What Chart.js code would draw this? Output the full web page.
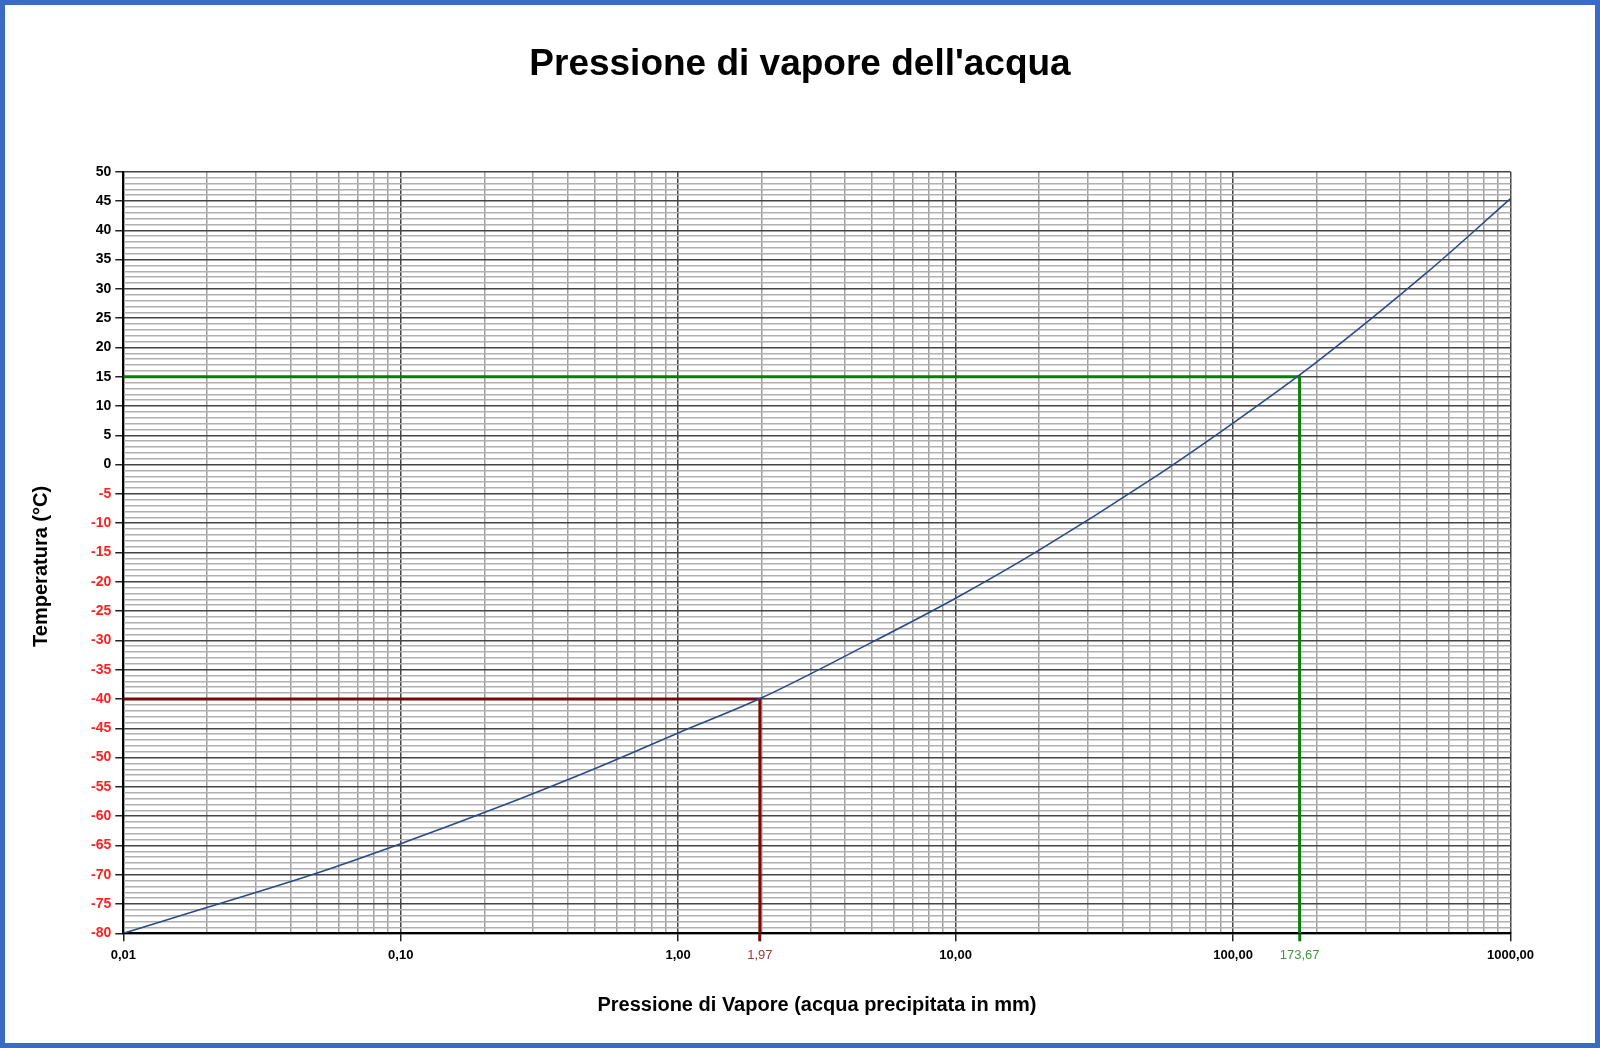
<!DOCTYPE html>
<html>
<head>
<meta charset="utf-8">
<script src="https://cdn.jsdelivr.net/npm/chart.js@4.4.1/dist/chart.umd.min.js"></script>
<style>
    html, body { margin: 0; padding: 0; background: #fff; }
    #frame {
        width: 1600px;
        height: 1048px;
        box-sizing: border-box;
        border: 5px solid #3a6bc4;
        background: #fff;
    }
    canvas { display: block; }
</style>
</head>
<body>
<div id="frame"><canvas id="vaporChart" width="1590" height="1038"></canvas></div>
<script>
// Curve: pressure (mm) -> temperature (°C)
const pressure = [0.01, 0.02, 0.05, 0.1, 0.2, 0.5, 1, 2, 5, 10, 20, 50, 100, 200, 500, 1000];
const temperature = [-80, -75.6, -69.7, -64.7, -59.4, -51.9, -45.8, -39.8, -30.3, -22.8, -14.6, -2.7, 7.1, 17.5, 32.8, 45.4];

// Marked readings
const greenPoint = { x: 173.67, y: 15 };
const redPoint = { x: 1.97, y: -40 };

// Axis ticks
const xDecades = [0.01, 0.1, 1, 10, 100, 1000];
const xMarked = [1.97, 173.67];
const yLabels = [-80, -75, -70, -65, -60, -55, -50, -45, -40, -35, -30, -25, -20, -15, -10, -5, 0, 5, 10, 15, 20, 25, 30, 35, 40, 45, 50];

const FONT = "'Liberation Sans', Arial, sans-serif";
const GREEN = '#0a7d0a';
const RED = '#7a0a0a';

// minor grid values (2..9 per decade, 1 degree steps)
const xGrid = [];
xDecades.forEach((d, i) => {
    xGrid.push(d);
    if (i < xDecades.length - 1) {
        for (let k = 2; k <= 9; k++) xGrid.push(+(d * k).toPrecision(6));
    }
});
xMarked.forEach(v => xGrid.push(v));
xGrid.sort((a, b) => a - b);

const yGrid = [];
for (let v = yLabels[0]; v <= yLabels[yLabels.length - 1]; v++) yGrid.push(v);

const isDecade = v => xDecades.some(d => Math.abs(d - v) < 1e-9);
const isMarked = v => xMarked.some(d => Math.abs(d - v) < 1e-9);
const markColor = v => (Math.abs(v - greenPoint.x) < 1e-9 ? GREEN : RED);
const fmt = v => v.toFixed(2).replace('.', ',');

const ctx = document.getElementById('vaporChart').getContext('2d');

new Chart(ctx, {
    type: 'scatter',
    data: {
        datasets: [
            {
                data: pressure.map((p, i) => ({ x: p, y: temperature[i] })),
                showLine: true,
                borderColor: '#2b4a8a',
                borderWidth: 1.6,
                pointRadius: 0,
                cubicInterpolationMode: 'monotone',
            },
            {
                data: [{ x: pressure[0], y: greenPoint.y }, greenPoint, { x: greenPoint.x, y: temperature[0] }],
                showLine: true,
                borderColor: GREEN,
                borderWidth: 3,
                pointRadius: 0,
                tension: 0,
            },
            {
                data: [{ x: pressure[0], y: redPoint.y }, redPoint, { x: redPoint.x, y: temperature[0] }],
                showLine: true,
                borderColor: RED,
                borderWidth: 3,
                pointRadius: 0,
                tension: 0,
            },
        ],
    },
    options: {
        responsive: false,
        animation: false,
        layout: { padding: 0 },
        plugins: {
            legend: { display: false },
            tooltip: { enabled: false },
            title: {
                display: true,
                text: "Pressione di vapore dell'acqua",
                color: '#000',
                font: { family: FONT, size: 37, weight: 'bold' },
                padding: { top: 37.8, bottom: 84.5 },
            },
        },
        scales: {
            x: {
                type: 'logarithmic',
                min: 0.01,
                max: 1000,
                afterBuildTicks: scale => {
                    scale.ticks = xGrid.map(v => ({ value: v }));
                },
                afterFit: scale => {
                    scale.height = 109.7;
                },
                border: { color: '#000', width: 2 },
                grid: {
                    color: c => {
                        const v = c.tick.value;
                        if (isMarked(v)) return 'rgba(0,0,0,0)';
                        return isDecade(v) ? '#454545' : '#a0a0a0';
                    },
                    lineWidth: c => (isDecade(c.tick.value) ? 1.5 : 1.5),
                    tickLength: 8,
                    tickColor: c => {
                        const v = c.tick.value;
                        if (isMarked(v)) return markColor(v);
                        return isDecade(v) ? '#222' : 'rgba(0,0,0,0)';
                    },
                    tickWidth: c => (isMarked(c.tick.value) ? 3 : 1.5),
                },
                ticks: {
                    autoSkip: false,
                    maxRotation: 0,
                    minRotation: 0,
                    padding: 6,
                    color: c => {
                        const v = c.tick.value;
                        return isMarked(v) ? (markColor(v) === GREEN ? '#3c9a3c' : '#9a3a3a') : '#000';
                    },
                    font: c => ({
                        family: FONT,
                        size: 13,
                        weight: isMarked(c.tick.value) ? 'normal' : 'bold',
                    }),
                    callback: v => (isDecade(v) || isMarked(v) ? fmt(v) : ''),
                },
                title: {
                    display: true,
                    text: 'Pressione di Vapore (acqua precipitata in mm)',
                    color: '#000',
                    font: { family: FONT, size: 20, weight: 'bold' },
                    padding: { top: 0, bottom: 26 },
                },
            },
            y: {
                type: 'linear',
                min: yLabels[0],
                max: yLabels[yLabels.length - 1],
                afterBuildTicks: scale => {
                    scale.ticks = yGrid.map(v => ({ value: v }));
                },
                afterFit: scale => {
                    scale.width = 118.3;
                },
                border: { color: '#000', width: 2 },
                grid: {
                    color: c => (c.tick.value % 5 === 0 ? '#454545' : '#b0b0b0'),
                    lineWidth: 1.5,
                    tickLength: 8,
                    tickColor: c => (c.tick.value % 5 === 0 ? '#222' : 'rgba(0,0,0,0)'),
                },
                ticks: {
                    autoSkip: false,
                    padding: 4,
                    color: c => (c.tick.value < 0 ? '#ff2020' : '#000'),
                    font: { family: FONT, size: 14, weight: 'bold' },
                    callback: v => (yLabels.includes(v) ? String(v) : ''),
                },
                title: {
                    display: true,
                    text: 'Temperatura (°C)     ',
                    color: '#000',
                    font: { family: FONT, size: 20, weight: 'bold' },
                    padding: { top: 24, bottom: 0 },
                },
            },
            // empty right box: keeps the plot narrower while the title stays centred on the page
            yRight: {
                type: 'linear',
                position: 'right',
                display: true,
                afterFit: scale => {
                    scale.width = 84.5;
                },
                border: { display: false },
                grid: { display: false, drawTicks: false },
                ticks: { display: false },
            },
        },
    },
});
</script>
</body>
</html>
